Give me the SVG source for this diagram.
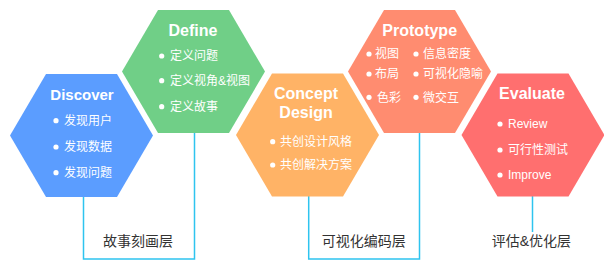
<svg xmlns="http://www.w3.org/2000/svg" xmlns:xlink="http://www.w3.org/1999/xlink" width="604" height="260" viewBox="0 0 604 260">
<defs>
<style>
.title{font-family:"Liberation Sans","Noto Sans CJK SC",sans-serif;font-weight:bold;font-size:16px;fill:#fff;text-anchor:middle}
.item{font-family:"Liberation Sans","Noto Sans CJK SC",sans-serif;font-size:12px;fill:#fff}
.dot{fill:#fff}
.label{font-family:"Liberation Sans","Noto Sans CJK SC",sans-serif;font-size:14px;fill:#333}
.conn{fill:none;stroke:#2EC4EF;stroke-width:1.5}
</style>
<polygon id="hex" points="-71.5,0 -35.5,-61.5 35.5,-61.5 71.5,0 35.5,61.5 -35.5,61.5"/>
</defs>
<rect width="604" height="260" fill="#fff"/>
<g id="connectors">
<path class="conn" d="M83.5,196 V259 H194.5 V132"/>
<path class="conn" d="M308.7,196 V259 H419.5 V132"/>
<path class="conn" d="M532.5,196 V232"/>
</g>
<g id="discover">
<use xlink:href="#hex" transform="translate(81.5,135.5)" fill="#5B9DFF"/>
<text class="title" x="82" y="100" style="font-size:15px">Discover</text>
<circle class="dot" cx="56" cy="120.7" r="2.6"/><text class="item" x="64" y="125">发现用户</text>
<circle class="dot" cx="56" cy="147" r="2.6"/><text class="item" x="64" y="151">发现数据</text>
<circle class="dot" cx="56" cy="172.7" r="2.6"/><text class="item" x="64" y="177">发现问题</text>
</g>
<g id="define">
<use xlink:href="#hex" transform="translate(193.5,71.5)" fill="#70CF87"/>
<text class="title" x="193" y="36">Define</text>
<circle class="dot" cx="161.7" cy="56" r="2.6"/><text class="item" x="170" y="60">定义问题</text>
<circle class="dot" cx="161.7" cy="80.7" r="2.6"/><text class="item" x="170" y="85">定义视角&amp;视图</text>
<circle class="dot" cx="161.7" cy="106.7" r="2.6"/><text class="item" x="170" y="111">定义故事</text>
</g>
<g id="concept">
<use xlink:href="#hex" transform="translate(307.5,135)" fill="#FFB366"/>
<text class="title" x="306" y="99">Concept</text>
<text class="title" x="306" y="117.5">Design</text>
<circle class="dot" cx="272.7" cy="141.7" r="2.6"/><text class="item" x="280" y="146">共创设计风格</text>
<circle class="dot" cx="272.7" cy="165" r="2.6"/><text class="item" x="280" y="169">共创解决方案</text>
</g>
<g id="prototype">
<use xlink:href="#hex" transform="translate(419.5,71.5)" fill="#FF8C70"/>
<text class="title" x="419.7" y="36">Prototype</text>
<circle class="dot" cx="369" cy="54" r="2.6"/><text class="item" x="375" y="57.5">视图</text>
<circle class="dot" cx="369" cy="74" r="2.6"/><text class="item" x="375" y="78">布局</text>
<circle class="dot" cx="369" cy="97.3" r="2.6"/><text class="item" x="377" y="101.5">色彩</text>
<circle class="dot" cx="416" cy="54" r="2.6"/><text class="item" x="423" y="57.5">信息密度</text>
<circle class="dot" cx="416" cy="74" r="2.6"/><text class="item" x="423" y="78">可视化隐喻</text>
<circle class="dot" cx="416" cy="97.3" r="2.6"/><text class="item" x="423" y="101.5">微交互</text>
</g>
<g id="evaluate">
<use xlink:href="#hex" transform="translate(533,135)" fill="#FF6F6F"/>
<text class="title" x="532" y="98.5">Evaluate</text>
<circle class="dot" cx="500" cy="124" r="2.6"/><text class="item" x="508" y="128">Review</text>
<circle class="dot" cx="500" cy="150" r="2.6"/><text class="item" x="508" y="154">可行性测试</text>
<circle class="dot" cx="500" cy="175" r="2.6"/><text class="item" x="508" y="179">Improve</text>
</g>
<g id="labels">
<text class="label" x="103" y="245.5">故事刻画层</text>
<text class="label" x="321.7" y="245.5">可视化编码层</text>
<text class="label" x="491.7" y="245.5">评估&amp;优化层</text>
</g>
</svg>
